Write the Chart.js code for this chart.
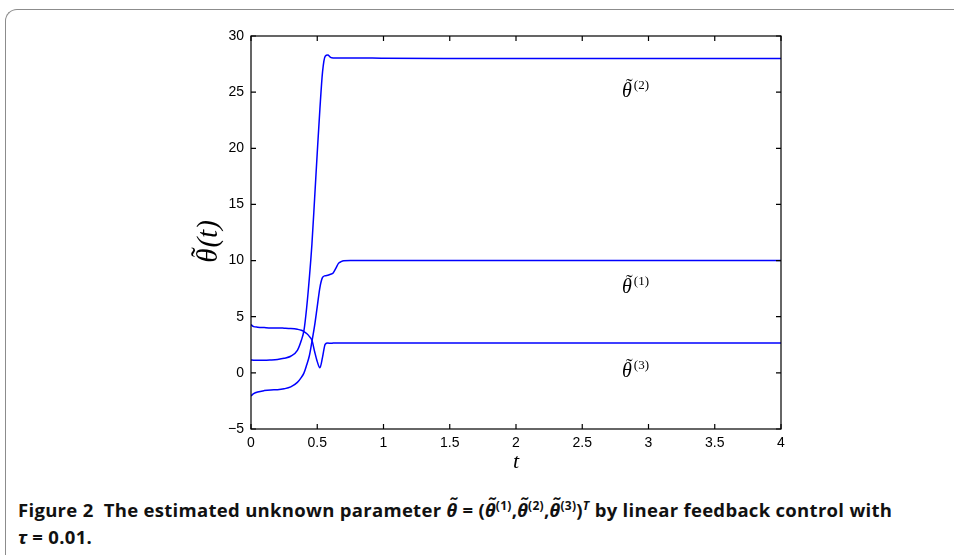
<!DOCTYPE html>
<html>
<head>
<meta charset="utf-8">
<script src="https://cdn.jsdelivr.net/npm/chart.js@4.4.1/dist/chart.umd.min.js"></script>
<style>
  html, body { margin: 0; padding: 0; background: #fff; }
  body { width: 954px; height: 555px; position: relative; overflow: hidden; }
  #frame {
    position: absolute; left: 5px; top: 9px; width: 1000px; height: 600px;
    border-left: 1.5px solid #8c8c8c; border-top: 1.5px solid #8c8c8c;
    border-top-left-radius: 12px;
  }
  #chartBox { position: absolute; left: 0; top: 0; width: 954px; height: 480px; }
  #caption {
    position: absolute; left: 18px; top: 496px;
    font-family: "Open Sans", "Noto Sans", sans-serif; font-weight: 700;
    font-size: 18.5px; line-height: 27px; color: #111; letter-spacing: 0.3px;
    white-space: nowrap;
  }
  #caption i { font-family: "Noto Sans", "Open Sans", sans-serif; }
  #caption .th { position: relative; display: inline-block; }
  #caption .th::before {
    content: "\02DC"; position: absolute; left: 3px; top: -6px; font-style: normal;
  }
  #caption sup { font-size: 12px; line-height: 0; vertical-align: 7px; }
</style>
</head>
<body>
<div id="frame"></div>
<div id="chartBox"><canvas id="myChart" width="954" height="480"></canvas></div>
<div id="caption">Figure 2&nbsp; The estimated unknown parameter <i class="th">θ</i> = (<i class="th">θ</i><sup>(1)</sup>,<i class="th">θ</i><sup>(2)</sup>,<i class="th">θ</i><sup>(3)</sup>)<sup><i>T</i></sup> by linear feedback control with<br><i>τ</i> = 0.01.</div>
<script>
// time samples shared by the three estimates
const tValues = [0, 0.02, 0.05, 0.1, 0.15, 0.2, 0.25, 0.3, 0.35, 0.38, 0.4, 0.42, 0.44, 0.46, 0.48,
  0.5, 0.52, 0.54, 0.56, 0.58, 0.6, 0.62, 0.64, 0.66, 0.68, 0.7, 0.75, 0.8, 1, 1.5, 2, 2.5, 3, 3.5, 4];

const theta1 = [-2.05, -1.85, -1.7, -1.58, -1.52, -1.5, -1.42, -1.25, -0.85, -0.4, 0.0, 0.7, 1.5, 2.8, 4.2,
  5.9, 7.6, 8.5, 8.65, 8.7, 8.78, 8.9, 9.3, 9.75, 9.9, 9.98, 10.0, 10.0, 10.0, 10.0, 10.0, 10.0, 10.0, 10.0, 10.0];

const theta2 = [1.15, 1.13, 1.12, 1.12, 1.15, 1.2, 1.3, 1.48, 2.0, 2.9, 3.8, 5.8, 8.4, 11.5, 15.5,
  19.6, 23.5, 26.8, 28.2, 28.3, 28.1, 28.05, 28.05, 28.05, 28.05, 28.05, 28.05, 28.05, 28.02, 28.0, 28.0, 28.0, 28.0, 28.0, 28.0];

const theta3 = [4.3, 4.12, 4.07, 4.03, 4.0, 4.0, 3.98, 3.95, 3.88, 3.8, 3.68, 3.5, 3.25, 2.9, 1.9,
  1.0, 0.45, 1.4, 2.55, 2.65, 2.63, 2.65, 2.66, 2.66, 2.66, 2.67, 2.67, 2.67, 2.67, 2.67, 2.67, 2.67, 2.67, 2.67, 2.67];

const seriesNames = ['(1)', '(2)', '(3)'];
// where the curve names sit, in data units
const labelT = 2.8;
const labelY = [7.1, 24.6, -0.36];

const xTicks = { min: 0, max: 4, step: 0.5 };
const yTicks = { min: -5, max: 30, step: 5 };

function pts(ys) { return tValues.map((t, i) => ({ x: t, y: ys[i] })); }

const lineStyle = {
  borderColor: '#0000ff', borderWidth: 1.5, pointRadius: 0,
  fill: false, cubicInterpolationMode: 'monotone'
};

const SERIF = '"Liberation Serif", "DejaVu Serif", serif';

// theta with a tilde on top, left edge at x, baseline at y
function thetaTilde(ctx, x, y, size) {
  ctx.font = 'italic ' + size + 'px ' + SERIF;
  ctx.textAlign = 'left';
  ctx.fillText('θ', x, y);
  const w = ctx.measureText('θ').width;
  ctx.font = size + 'px ' + SERIF;
  const tw = ctx.measureText('\u02DC').width;
  ctx.fillText('\u02DC', x + w / 2 - tw / 2 + size * 0.12, y - size * 0.2);
  return w;
}

// inward ticks on all four sides + the box + curve names + y title
const boxTicks = {
  id: 'boxTicks',
  afterDatasetsDraw(chart) {
    const { ctx, chartArea: a, scales: { x, y } } = chart;
    ctx.save();
    ctx.strokeStyle = '#000';
    ctx.lineWidth = 1.2;
    ctx.strokeRect(a.left, a.top, a.right - a.left, a.bottom - a.top);
    ctx.beginPath();
    x.ticks.forEach(tk => {
      const px = x.getPixelForValue(tk.value);
      ctx.moveTo(px, a.bottom); ctx.lineTo(px, a.bottom - 5);
      ctx.moveTo(px, a.top); ctx.lineTo(px, a.top + 5);
    });
    y.ticks.forEach(tk => {
      const py = y.getPixelForValue(tk.value);
      ctx.moveTo(a.left, py); ctx.lineTo(a.left + 5, py);
      ctx.moveTo(a.right, py); ctx.lineTo(a.right - 5, py);
    });
    ctx.stroke();

    ctx.fillStyle = '#000';
    ctx.textBaseline = 'alphabetic';
    const lx = x.getPixelForValue(labelT);
    seriesNames.forEach((nm, i) => {
      const ly = y.getPixelForValue(labelY[i]);
      const w = thetaTilde(ctx, lx, ly, 20);
      ctx.font = '13px ' + SERIF;
      ctx.fillText(nm, lx + w + 2, ly - 8);
    });

    // y axis title, rotated
    ctx.save();
    ctx.translate(217, 242);
    ctx.rotate(-Math.PI / 2);
    ctx.font = 'italic 29px ' + SERIF;
    const full = ctx.measureText('θ(t)').width;
    const x0 = -full / 2;
    const w = thetaTilde(ctx, x0, 0, 29);
    ctx.font = 'italic 29px ' + SERIF;
    ctx.fillText('(t)', x0 + w + 1, 0);
    ctx.restore();

    ctx.restore();
  }
};

const ctx = document.getElementById('myChart').getContext('2d');
const chart = new Chart(ctx, {
  type: 'line',
  data: {
    datasets: [
      Object.assign({ label: 'theta1', data: pts(theta1) }, lineStyle),
      Object.assign({ label: 'theta2', data: pts(theta2) }, lineStyle),
      Object.assign({ label: 'theta3', data: pts(theta3) }, lineStyle)
    ]
  },
  options: {
    responsive: false,
    animation: false,
    layout: { padding: { left: 188, right: 173, top: 36, bottom: 0 } },
    plugins: { legend: { display: false }, tooltip: { enabled: false } },
    scales: {
      x: {
        type: 'linear', min: xTicks.min, max: xTicks.max,
        grid: { display: false, drawTicks: false },
        border: { display: false },
        ticks: {
          stepSize: xTicks.step, padding: 6, color: '#000', maxRotation: 0,
          font: { family: '"Liberation Sans", Arial, sans-serif', size: 14 },
          callback: v => String(v)
        },
        title: {
          display: true, text: 't', color: '#000',
          font: { family: SERIF, style: 'italic', size: 22 },
          padding: { top: 0, bottom: 5 }
        },
        afterFit: s => { s.height = 51; }
      },
      y: {
        type: 'linear', min: yTicks.min, max: yTicks.max,
        grid: { display: false, drawTicks: false },
        border: { display: false },
        ticks: {
          stepSize: yTicks.step, padding: 7, color: '#000',
          font: { family: '"Liberation Sans", Arial, sans-serif', size: 14 },
          callback: v => String(v).replace('-', '\u2212')
        },
        title: { display: false },
        afterFit: s => { s.width = 63; }
      }
    }
  },
  plugins: [boxTicks]
});
</script>
</body>
</html>
